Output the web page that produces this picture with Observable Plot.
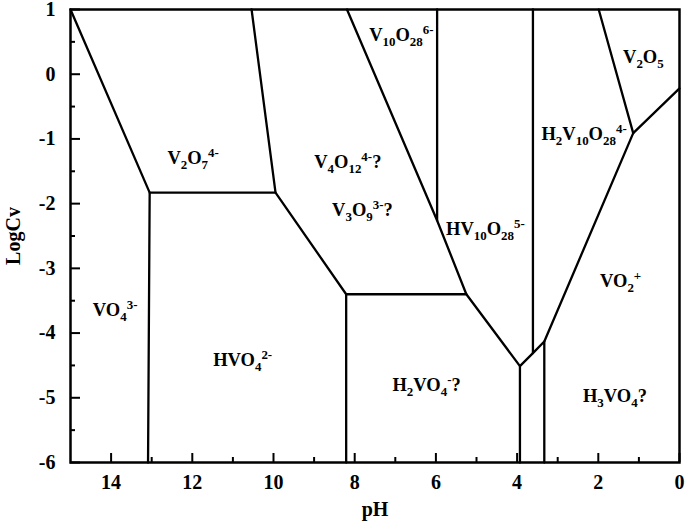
<!DOCTYPE html>
<html><head><meta charset="utf-8">
<script src="https://cdn.jsdelivr.net/npm/d3@7"></script>
<script src="https://cdn.jsdelivr.net/npm/@observablehq/plot@0.6"></script>
<style>body{margin:0;background:#fff}</style>
</head><body><div id="chart"></div>
<script>
// tick values
const xMajor = [0, 2, 4, 6, 8, 10, 12, 14];
const xMinor = [1, 3, 5, 7, 9, 11, 13];
const yMajor = [-6, -5, -4, -3, -2, -1, 0, 1];
const yMinor = [-5.5, -4.5, -3.5, -2.5, -1.5, -0.5, 0.5];

// predominance boundaries, each a polyline of [pH, LogCv]
const lineVO4 = [[15, 1], [13.05, -1.83], [13.09, -6]];
const lineV2O7 = [[13.05, -1.83], [9.95, -1.83]];
const lineV4O12 = [[10.54, 1], [9.95, -1.83], [8.21, -3.40], [8.21, -6]];
const lineH2VO4 = [[8.21, -3.40], [5.25, -3.40], [3.93, -4.51], [3.93, -6]];
const lineV10O28 = [[8.19, 1], [5.97, -2.26], [5.25, -3.40]];
const lineHV10 = [[5.97, 1], [5.97, -2.26]];
const lineLow = [[3.93, -4.51], [3.61, -4.31], [3.33, -4.13], [3.33, -6]];
const lineH2V10 = [[3.61, 1], [3.61, -4.31]];
const lineVO2 = [[3.33, -4.13], [1.14, -0.91], [1.99, 1]];
const lineV2O5 = [[1.14, -0.91], [0, -0.22]];

// species labels: _{..} subscript, ^{..} superscript
const species = ["V_{2}O_{7}^{4-}", "V_{4}O_{12}^{4-}?", "V_{3}O_{9}^{3-}?", "V_{10}O_{28}^{6-}",
  "V_{2}O_{5}", "H_{2}V_{10}O_{28}^{4-}", "HV_{10}O_{28}^{5-}", "VO_{2}^{+}",
  "H_{3}VO_{4}?", "H_{2}VO_{4}^{-}?", "HVO_{4}^{2-}", "VO_{4}^{3-}"];
const speciesPH = [11.98, 8.17, 7.81, 6.85, 0.89, 2.35, 4.78, 1.45, 1.59, 6.23, 10.76, 13.90];
const speciesLogC = [-1.30, -1.365, -2.10, 0.60, 0.26, -0.93, -2.40, -3.19, -4.97, -4.81, -4.42, -3.65];

const boundaries = [lineVO4, lineV2O7, lineV4O12, lineH2VO4, lineV10O28, lineHV10, lineLow, lineH2V10, lineVO2, lineV2O5];
const rows = boundaries.flatMap((pts, id) => pts.map(([pH, logC]) => ({id, pH, logC})));
const labels = species.map((s, i) => ({s, pH: speciesPH[i], logC: speciesLogC[i]}));

const fmt = d => `${d}`;
const chart = Plot.plot({
  width: 685, height: 521,
  marginLeft: 70, marginRight: 6, marginTop: 9, marginBottom: 59,
  x: {domain: [15, 0], label: null},
  y: {domain: [-6, 1], label: null},
  style: {fontFamily: "'Liberation Serif', 'Times New Roman', serif", fontWeight: "bold", color: "black", background: "white"},
  marks: [
    Plot.line(rows, {x: "pH", y: "logC", z: "id", stroke: "black", strokeWidth: 2.3}),
    Plot.frame({stroke: "black", strokeWidth: 2.5}),
    Plot.axisX({ticks: xMinor, tickSize: -5, tickFormat: () => "", strokeWidth: 2, label: null}),
    Plot.axisX({ticks: xMajor, tickSize: -9, tickPadding: 21, tickFormat: fmt, fontSize: 20, strokeWidth: 2,
      label: "pH", labelAnchor: "center", labelArrow: "none", labelOffset: 53}),
    Plot.axisY({ticks: yMinor, tickSize: -5, tickFormat: () => "", strokeWidth: 2, label: null}),
    Plot.axisY({ticks: yMajor, tickSize: -10, tickPadding: 25, tickFormat: fmt, fontSize: 20, strokeWidth: 2,
      label: "LogCv", labelAnchor: "center", labelArrow: "none", labelOffset: 65}),
    Plot.text(labels, {x: "pH", y: "logC", text: "s", fontSize: 18.5, fill: "black"})
  ]
});
document.getElementById("chart").appendChild(chart);

// turn the markup into real sub/superscript tspans
const NS = "http://www.w3.org/2000/svg";
chart.querySelectorAll('g[aria-label="text"] text').forEach(el => {
  const s = el.textContent;
  const parts = s.match(/_\{[^}]*\}|\^\{[^}]*\}|[^_^]+/g) || [s];
  el.textContent = "";
  let shift = 0;
  for (const p of parts) {
    const t = document.createElementNS(NS, "tspan");
    let target = 0, txt = p, small = false;
    if (p[0] === "_") { target = 5; txt = p.slice(2, -1); small = true; }
    else if (p[0] === "^") { target = -7; txt = p.slice(2, -1); small = true; }
    if (target - shift !== 0) t.setAttribute("dy", target - shift);
    shift = target;
    if (small) t.setAttribute("font-size", "0.7em");
    t.textContent = txt;
    el.appendChild(t);
  }
});
</script>
</body></html>
